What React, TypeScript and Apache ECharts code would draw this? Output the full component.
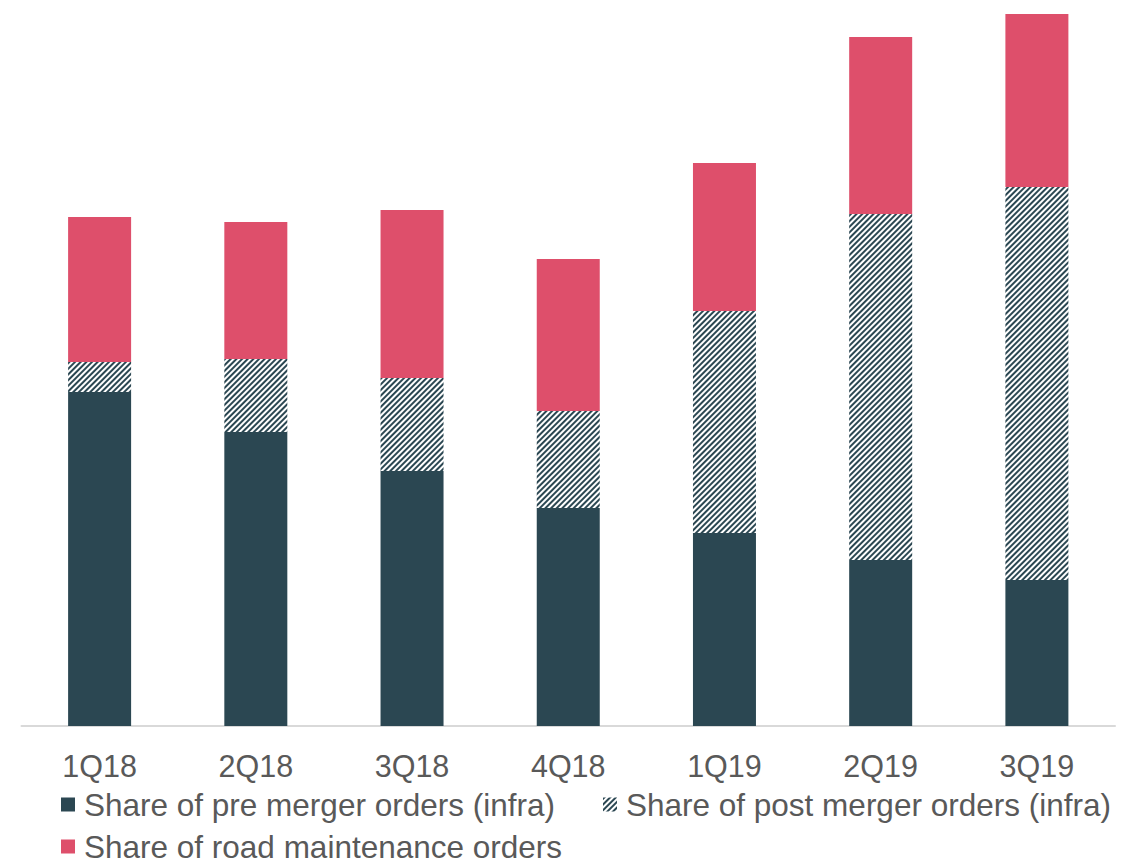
import React, { useEffect, useRef } from "react";
import * as echarts from "echarts";

const categories = ["1Q18", "2Q18", "3Q18", "4Q18", "1Q19", "2Q19", "3Q19"];
const preMerger = [334, 294, 255, 218, 193, 166, 146];
const postMerger = [30, 73, 93, 97, 222, 346, 393];
const roadMaintenance = [145, 137, 168, 152, 148, 177, 173];
const seriesNames = [
  "Share of pre merger orders (infra)",
  "Share of post merger orders (infra)",
  "Share of road maintenance orders",
];

const DARK = "#2B4752";
const RED = "#DE4F6B";
const TEXT = "#595959";
const FONT = "'Liberation Sans', Arial, sans-serif";

export default function App() {
  const ref = useRef<HTMLDivElement>(null);
  useEffect(() => {
    if (!ref.current) return;
    const chart = echarts.init(ref.current, null, { renderer: "svg" });
    const legendText = { color: TEXT, fontSize: 31.5, fontFamily: FONT, lineHeight: 24, padding: [0, 0, 0, 4] };
    const common = { padding: 0, itemWidth: 14, itemHeight: 14, itemGap: 0, icon: "rect", textStyle: legendText };
    chart.setOption({
      animation: false,
      grid: { left: 21.5, right: 7, top: 0, bottom: 132 },
      xAxis: {
        type: "category",
        data: categories,
        axisLine: { lineStyle: { color: "#D9D9D9", width: 2 } },
        axisTick: { show: false },
        axisLabel: { color: TEXT, fontSize: 30.5, fontFamily: FONT, margin: 24 },
      },
      yAxis: { type: "value", min: 0, max: 726, show: false, splitLine: { show: false } },
      legend: [
        { ...common, data: [seriesNames[0]], left: 61, top: 788.5 },
        { ...common, data: [seriesNames[1]], left: 603, top: 788.5 },
        { ...common, data: [seriesNames[2]], left: 61, top: 830.5 },
      ],
      series: [
        {
          name: seriesNames[0],
          type: "bar",
          stack: "total",
          barWidth: 63,
          data: preMerger,
          itemStyle: { color: DARK },
        },
        {
          name: seriesNames[1],
          type: "bar",
          stack: "total",
          barWidth: 63,
          data: postMerger,
          itemStyle: {
            color: "#ffffff",
            decal: {
              symbol: "rect",
              symbolSize: 1,
              color: DARK,
              dashArrayX: [1, 0],
              dashArrayY: [1.8, 1.4],
              rotation: -Math.PI / 4,
            },
          },
        },
        {
          name: seriesNames[2],
          type: "bar",
          stack: "total",
          barWidth: 63,
          data: roadMaintenance,
          itemStyle: { color: RED },
        },
      ],
    });
    return () => chart.dispose();
  }, []);
  return (
    <div
      ref={ref}
      style={{ position: "fixed", left: 0, top: 0, width: 1122, height: 858, background: "#fff" }}
    />
  );
}
